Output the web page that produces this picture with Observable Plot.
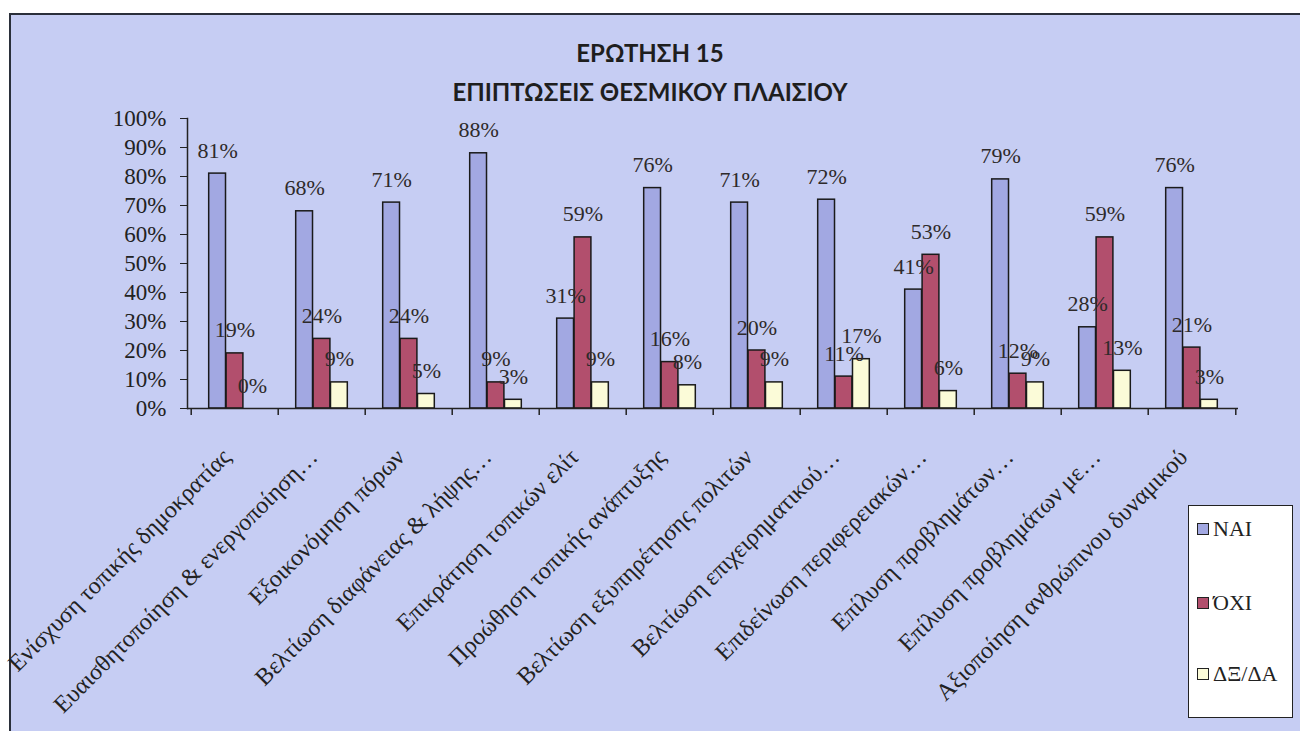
<!DOCTYPE html>
<html><head><meta charset="utf-8">
<script src="https://cdn.jsdelivr.net/npm/d3@7"></script>
<script src="https://cdn.jsdelivr.net/npm/@observablehq/plot@0.6"></script>
<style>
html,body{margin:0;padding:0;background:#fff;}
#wrap{position:relative;width:1300px;height:731px;overflow:hidden;}
#panel{position:absolute;left:9px;top:13px;width:1400px;height:800px;background:#c6cdf3;border:2px solid #2a2f3a;box-sizing:border-box;}
#chart{position:absolute;left:0;top:0;}
.title{position:absolute;left:0;width:1300px;text-align:center;font-family:Lato,"Open Sans",sans-serif;font-weight:bold;font-size:24px;line-height:24px;color:#1e1e1e;}
#legend{position:absolute;left:1188px;top:505px;width:105px;height:213px;background:#fff;border:1.5px solid #222;box-sizing:border-box;font-family:"Liberation Serif","Times New Roman",serif;font-size:22px;color:#222;}
.item{position:absolute;left:8px;height:22px;line-height:22px;white-space:nowrap;}
.sw{display:inline-block;width:10px;height:10px;border:1px solid #222;margin-right:4px;vertical-align:middle;position:relative;top:-2px;}
</style></head>
<body>
<div id="wrap">
  <div id="panel"></div>
  <div id="chart"></div>
  <div class="title" style="top:41px">ΕΡΩΤΗΣΗ 15</div>
  <div class="title" style="top:80px">ΕΠΙΠΤΩΣΕΙΣ ΘΕΣΜΙΚΟΥ ΠΛΑΙΣΙΟΥ</div>
  <div id="legend"></div>
</div>
<script>
const categories = [
  "Ενίσχυση τοπικής δημοκρατίας",
  "Ευαισθητοποίηση & ενεργοποίηση…",
  "Εξοικονόμηση πόρων",
  "Βελτίωση διαφάνειας & λήψης…",
  "Επικράτηση τοπικών ελίτ",
  "Προώθηση τοπικής ανάπτυξης",
  "Βελτίωση εξυπηρέτησης πολιτών",
  "Βελτίωση επιχειρηματικού…",
  "Επιδείνωση περιφερειακών…",
  "Επίλυση προβλημάτων…",
  "Επίλυση προβλημάτων με…",
  "Αξιοποίηση ανθρώπινου δυναμικού"
];
const seriesNames = ["ΝΑΙ", "ΌΧΙ", "ΔΞ/ΔΑ"];
const nai  = [81, 68, 71, 88, 31, 76, 71, 72, 41, 79, 28, 76];
const oxi  = [19, 24, 24, 9, 59, 16, 20, 11, 53, 12, 59, 21];
const dkda = [0, 9, 5, 3, 9, 8, 9, 17, 6, 9, 13, 3];
const yTicks = [0, 10, 20, 30, 40, 50, 60, 70, 80, 90, 100];
const colors = ["#a2a8e2", "#b24f6d", "#fbfbd8"];

const seriesValues = [nai, oxi, dkda];
const rows = [];
seriesValues.forEach((vals, i) => vals.forEach((v, j) => rows.push({cat: categories[j], series: seriesNames[i], si: i, value: v})));

const serif = "Liberation Serif, Times New Roman, serif";
const barW = 17.4;
const bandW = (1238 - 187) / categories.length;
const inset = (bandW - barW) / 2;

const marks = [];
marks.push(Plot.axisY({ticks: yTicks, tickSize: 7, tickPadding: 14, tickFormat: d => d + "%", fontSize: 23, fontFamily: serif, color: "#222", label: null}));
marks.push(Plot.axisX({tickSize: 7, tickFormat: () => "", dx: -bandW / 2, color: "#222", strokeWidth: 1.5, label: null}));
marks.push(Plot.axisX({ticks: [categories[categories.length - 1]], tickSize: 7, tickFormat: () => "", dx: bandW / 2, color: "#222", strokeWidth: 1.5, label: null}));
seriesNames.forEach((s, i) => {
  marks.push(Plot.barY(rows.filter(r => r.si === i), {
    x: "cat", y: "value", fill: colors[i], stroke: "#1a1a1a", strokeWidth: 1.5,
    insetLeft: inset, insetRight: inset, dx: (i - 1) * barW
  }));
});
marks.push(Plot.ruleY([0], {stroke: "#222", strokeWidth: 1.5}));
marks.push(Plot.frame({anchor: "left", stroke: "#222", strokeWidth: 1.5}));
seriesNames.forEach((s, i) => {
  marks.push(Plot.text(rows.filter(r => r.si === i), {
    x: "cat", y: "value", text: d => d.value + "%", dx: (i - 1) * barW, dy: -16,
    lineAnchor: "bottom", fontSize: 22, fontFamily: serif, fill: "#2e2a2a"
  }));
});
marks.push(Plot.text(categories, {
  x: d => d, frameAnchor: "bottom", rotate: -45, textAnchor: "end",
  dx: -3, dy: 50, fontSize: 24, fontFamily: serif, fill: "#222"
}));

const chart = Plot.plot({
  width: 1300, height: 731,
  marginLeft: 187, marginRight: 62, marginTop: 118, marginBottom: 323,
  x: {domain: categories, padding: 0, axis: null, label: null},
  y: {domain: [0, 100], axis: null, label: null},
  style: {background: "transparent", overflow: "visible"},
  marks
});
document.getElementById("chart").appendChild(chart);

const legend = document.getElementById("legend");
const itemTops = [12, 86, 157];
seriesNames.forEach((s, i) => {
  const d = document.createElement("div");
  d.className = "item";
  d.style.top = itemTops[i] + "px";
  d.innerHTML = `<span class="sw" style="background:${colors[i]}"></span>${s}`;
  legend.appendChild(d);
});
</script>
</body></html>
